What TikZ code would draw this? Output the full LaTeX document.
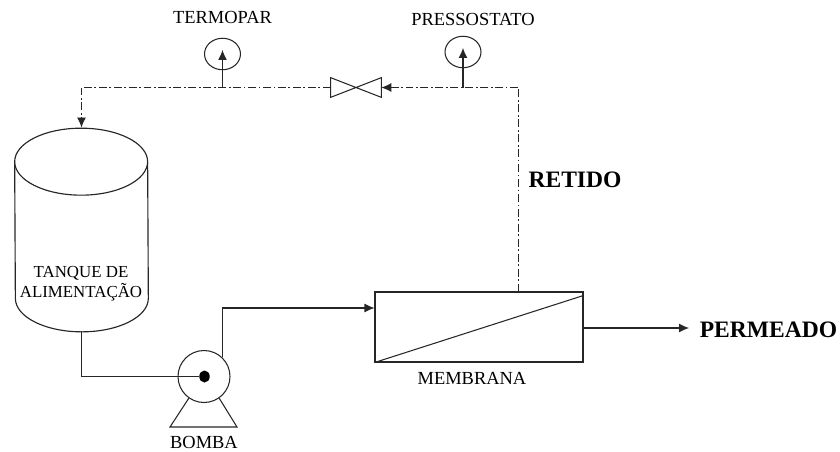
\documentclass[tikz,border=0pt]{standalone}
\usepackage{fontspec}
\setmainfont{Liberation Serif}
\usetikzlibrary{arrows.meta, positioning, calc, shapes.geometric}

\begin{document}
\begin{tikzpicture}[
  x=0.02cm, y=-0.02cm,
  label/.style={font=\fontsize{10.5}{11.5}\selectfont, inner sep=0pt, align=center},
  tanktext/.style={font=\fontsize{9.6}{11.3}\selectfont, inner sep=0pt, align=center},
  streamlabel/.style={font=\fontsize{13.4}{15}\selectfont\bfseries, inner sep=0pt},
  gauge/.style={draw=black!85, line width=0.6pt, ellipse, minimum width=0.72cm, minimum height=0.63cm, inner sep=0pt},
  pipe/.style={draw=black!85, line width=0.6pt},
  flow/.style={pipe, -{Latex[length=2mm, width=1.8mm]}},
  signal/.style={draw=black!85, line width=0.5pt, dash pattern=on 4.5pt off 1.5pt on 1pt off 1.5pt},
  signalflow/.style={signal, -{Latex[length=2mm, width=1.8mm]}}
]
  \useasboundingbox (0,0) rectangle (840,451);

  % tank
  \node[inner sep=0pt, minimum width=2.66cm, minimum height=2.72cm] (tank) at (81.5,230) {};
  \draw[pipe, line width=0.65pt] (tank.north west) arc[start angle=180, end angle=0, x radius=1.33cm, y radius=0.67cm]
    -- (tank.south east) arc[start angle=0, end angle=-180, x radius=1.33cm, y radius=0.67cm] -- cycle;
  \draw[pipe, line width=0.65pt] (tank.north west) arc[start angle=180, end angle=360, x radius=1.33cm, y radius=0.67cm];
  \node[tanktext] (tanklabel) at (81,284) {TANQUE DE\\ALIMENTAÇÃO};
  \coordinate (tanktop) at (81.5,127.5);
  \coordinate (tankout) at (81.5,331);

  % pump
  \node[draw=black!85, line width=0.6pt, circle, minimum size=1.04cm, inner sep=0pt] (pump) at (204,376.5) {};
  \node[fill=black, ellipse, minimum width=0.21cm, minimum height=0.24cm, inner sep=0pt] (rotor) at (204.5,376.5) {};
  \coordinate (footl) at (170,427);
  \coordinate (footr) at (237,427);
  \draw[pipe] (pump.-125) -- (footl) -- (footr) -- (pump.-55);
  \node[label] (pumplabel) at (204,442) {BOMBA};

  % membrane
  \node[draw=black!85, line width=0.6pt, minimum width=4.16cm, minimum height=1.4cm, inner sep=0pt] (membrane) at (479,327) {};
  \draw[pipe] (membrane.south west) -- ($(membrane.north east)+(0,4)$);
  \node[label] (membranelabel) at (472,378) {MEMBRANA};

  % instruments
  \node[gauge] (thermo) at (222.5,54) {};
  \node[gauge] (press) at (463,52) {};
  \node[label] (thermolabel) at (222.5,17) {TERMOPAR};
  \node[label] (presslabel) at (473,19) {PRESSOSTATO};

  % valve
  \node[minimum width=1cm, minimum height=0.38cm, inner sep=0pt] (valve) at (356,87.5) {};
  \draw[pipe] (valve.north west) -- (valve.south east) -- (valve.north east) -- (valve.south west) -- cycle;

  % streams
  \coordinate (split) at (518,87.5);
  \coordinate (thermotap) at (222.5,87.5);
  \coordinate (presstap) at (463,87.5);
  \coordinate (corner) at (81.5,87.5);
  \coordinate (pumpout) at (222,308);
  \coordinate (perm) at (689,328);

  \draw[pipe] (tankout) |- (rotor);
  \draw[flow] (pump.47) |- (membrane.west |- pumpout);
  \draw[flow] (membrane.east |- perm) -- (perm);
  \draw[signal] (membrane.north -| split) -- (split);
  \draw[signalflow] (split) -- (valve.east);
  \draw[signal] (valve.west) -- (corner);
  \draw[signalflow] (corner) -- (tanktop);
  \draw[flow, shorten >=-2.3pt] (thermotap) -- (thermo.center);
  \draw[flow, shorten >=-2.3pt] (presstap) -- (press.center);

  \node[streamlabel] (retido) at (575,180) {RETIDO};
  \node[streamlabel] (permeado) at (768.5,330) {PERMEADO};
\end{tikzpicture}
\end{document}
